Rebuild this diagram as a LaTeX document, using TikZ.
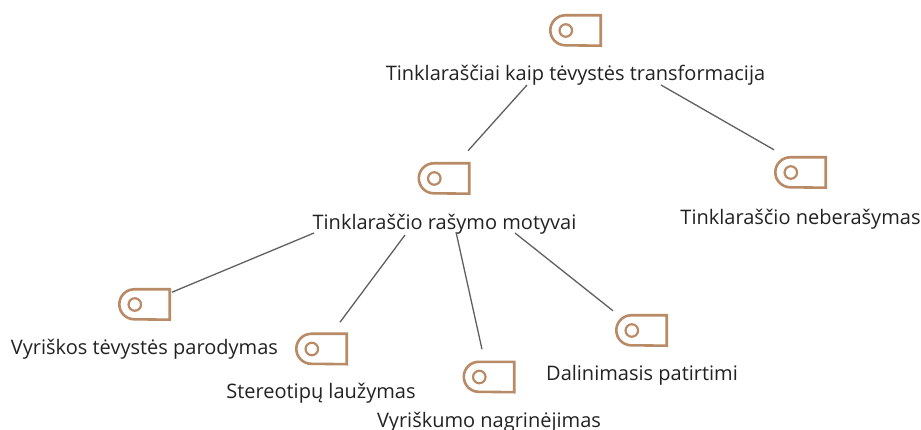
\documentclass[tikz,border=0pt]{standalone}
\usepackage{fontspec}
\setmainfont{Open Sans}
\definecolor{iconc}{HTML}{B98A66}
\definecolor{linec}{HTML}{5F5F5F}
\definecolor{textc}{HTML}{222222}
\tikzset{
 tagshape/.style={draw=iconc,line width=2.6pt,line join=miter},
 hole/.style={circle,draw=iconc,line width=2.2pt,minimum size=12.5pt,inner sep=0pt},
 lbl/.style={anchor=base,inner sep=0pt,text=textc,font=\fontsize{20}{24}\selectfont},
 conn/.style={draw=linec,line width=1.3pt},
 tagbox/.style={rectangle,minimum width=50pt,minimum height=30pt,inner sep=0pt}
}
\newcommand{\tagicon}[3]{%
 \node[tagbox] (#1) at (#2,#3) {};
 \draw[tagshape] (#1.north east) -- ([xshift=15pt]#1.north west) arc[start angle=90,end angle=270,radius=15pt] -- (#1.south east) -- cycle;
 \node[hole] (#1h) at ([xshift=15.5pt]#1.west) {};
}
\begin{document}
\begin{tikzpicture}[x=1pt,y=-1pt]
\useasboundingbox (0,0) rectangle (921,430);
\tagicon{i1}{575.5}{30.5}
\tagicon{i2}{444}{178.5}
\tagicon{i3}{800.5}{172.5}
\tagicon{i4}{144.5}{304.5}
\tagicon{i5}{321.5}{349}
\tagicon{i6}{489}{377}
\tagicon{i7}{641.5}{330.5}
\node[lbl] (t1) at (575.5,81) {Tinklaraščiai kaip tėvystės transformacija};
\node[lbl] (t2) at (444.5,230) {Tinklaraščio rašymo motyvai};
\node[lbl] (t3) at (800.5,225) {Tinklaraščio neberašymas};
\node[lbl] (t4) at (144.5,355) {Vyriškos tėvystės parodymas};
\node[lbl] (t5) at (321,398.5) {Stereotipų laužymas};
\node[lbl] (t6) at (489,427.5) {Vyriškumo nagrinėjimas};
\node[lbl] (t7) at (642,380.5) {Dalinimasis patirtimi};
\draw[conn] ([shift={(-48.5,4)}]t1.base) -- ([shift={(24,-12.5)}]i2.north);
\draw[conn] ([shift={(85.5,4)}]t1.base) -- ([shift={(-26.5,-7.5)}]i3.north);
\draw[conn] ([shift={(-130.5,3)}]t2.base) -- ([shift={(27.5,-27.5)}]i4.south);
\draw[conn] ([shift={(-39.5,5)}]t2.base) -- ([shift={(18.5,-42)}]i5.south);
\draw[conn] ([shift={(11.5,2)}]t2.base) -- ([shift={(-7,-12.5)}]i6.north);
\draw[conn] ([shift={(70.5,3)}]t2.base) -- ([shift={(-28.5,-4.5)}]i7.north);
\end{tikzpicture}
\end{document}
